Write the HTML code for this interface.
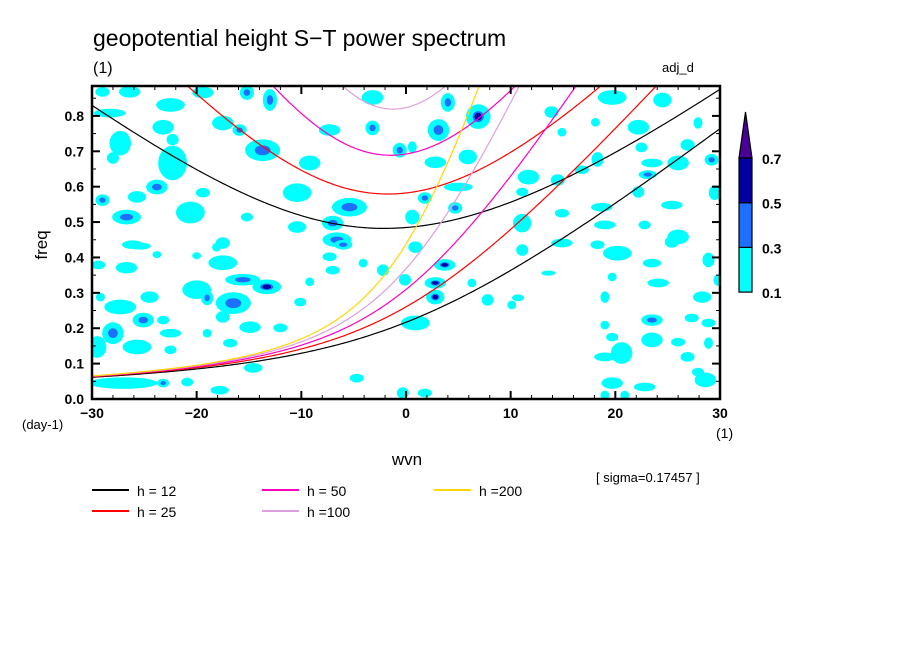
<!DOCTYPE html>
<html><head><meta charset="utf-8">
<style>
html,body{margin:0;padding:0;background:#fff;}
svg{display:block;font-family:"Liberation Sans","DejaVu Sans",sans-serif;}
</style></head>
<body>
<svg id="chart" width="904" height="654" viewBox="0 0 904 654" xmlns="http://www.w3.org/2000/svg">
<rect x="0" y="0" width="904" height="654" fill="#fff"/>
<text x="93" y="46" font-size="23" fill="#000">geopotential height S−T power spectrum</text>
<text x="93" y="73" font-size="16" fill="#000">(1)</text>
<text x="662" y="72" font-size="13" fill="#000">adj_d</text>
<g id="field"></g>
<g id="curves"></g>
<g id="axes"></g>
<text transform="translate(47,245) rotate(-90)" text-anchor="middle" font-size="17" fill="#000">freq</text>
<text x="22" y="429" font-size="13" fill="#000">(day-1)</text>
<text x="716" y="438" font-size="14" fill="#000">(1)</text>
<text x="407" y="465" text-anchor="middle" font-size="17" fill="#000">wvn</text>
<text x="596" y="482" font-size="13" fill="#000">[ sigma=0.17457 ]</text>
<g id="legend"></g>
<g id="colorbar"></g>
</svg>
<script>
// ---- data ----
const xTicks=[-30,-20,-10,0,10,20,30];
const yTicks=[0.0,0.1,0.2,0.3,0.4,0.5,0.6,0.7,0.8];
const depths=[12,25,50,100,200];
const depthColors=["#000000","#ff0000","#ff00c0","#dda0dd","#ffd700"];
const legendLabels=["h = 12","h = 25","h = 50","h =100","h =200"];
const cbLevels=[0.1,0.3,0.5,0.7];
const cbColors=["#00ffff","#1e6eff","#0000a0","#4b0096"];
// contour blobs (wavenumber, frequency, extent in wavenumber, extent in freq, level)
const blobK=[-29.0,-26.4,-22.5,-28.3,-23.2,-27.3,-28.0,-22.3,-22.3,-23.8,-25.7,-29.0,-26.7,-20.6,-19.4,-17.5,-19.4,-15.2,-13.0,-15.9,-13.7,-9.2,-7.3,-3.2,-3.2,-0.6,-10.4,-5.4,-7.0,-6.6,-10.4,-15.2,-17.5,-26.1,
4.0,6.9,3.1,0.6,5.9,2.8,5.0,1.8,4.7,0.6,11.7,11.1,14.5,11.1,13.9,14.9,18.1,19.7,22.2,24.5,22.5,18.3,16.8,23.5,26.0,26.9,29.2,23.1,22.2,18.7,14.9,19.0,22.8,26.0,27.9,29.5,25.4,14.9,18.3,
-25.4,-18.1,-6.0,-29.4,-26.7,-23.8,-20.0,-17.5,-15.6,-13.3,-20.0,-19.0,-16.5,-24.5,-27.3,-29.2,-25.1,-28.0,-29.5,-25.7,-23.2,-22.5,-17.5,-14.9,-12.0,-19.0,-16.8,-22.5,-14.6,-27.0,-23.2,-20.9,-17.8,-10.1,-9.2,-7.0,-4.1,-2.2,-4.7,-0.3,-7.3,
0.9,3.7,2.8,2.8,0.9,-0.1,11.1,14.9,20.2,23.5,25.4,28.9,29.8,24.1,19.0,19.7,28.3,13.6,7.8,10.7,10.1,6.3,23.5,27.3,28.9,19.0,19.7,23.5,26.0,20.6,19.0,26.9,28.9,27.9,28.6,19.7,22.8,19.0,20.9,1.8];
const blobF=[.868,.868,.831,.808,.768,.723,.681,.733,.667,.599,.571,.562,.514,.527,.583,.780,.866,.866,.845,.760,.703,.667,.760,.766,.852,.703,.583,.542,.497,.450,.486,.514,.441,.436,
.838,.798,.760,.712,.684,.669,.599,.568,.540,.514,.627,.585,.619,.497,.811,.754,.782,.852,.768,.845,.711,.677,.648,.667,.667,.718,.676,.634,.585,.542,.525,.492,.492,.458,.780,.583,.548,.441,.436,
.432,.429,.436,.379,.371,.408,.405,.385,.337,.317,.309,.286,.271,.288,.260,.288,.223,.186,.147,.147,.223,.186,.232,.203,.201,.186,.158,.139,.088,.045,.045,.048,.025,.274,.331,.364,.384,.364,.059,.017,.402,
.429,.379,.328,.288,.215,.337,.421,.441,.412,.384,.444,.393,.336,.328,.288,.345,.288,.356,.280,.286,.266,.328,.223,.229,.215,.209,.175,.167,.161,.130,.119,.119,.158,.076,.054,.045,.034,.011,.011,.017];
const blobDK=[1.2,1.9,2.6,2.9,1.9,1.9,1.0,1.0,2.6,1.9,1.6,1.2,2.6,2.6,1.2,1.9,1.9,1.2,1.2,1.2,3.2,1.9,1.9,1.2,1.9,1.2,2.6,3.2,1.9,2.6,1.6,1.0,1.2,1.9,
1.2,2.2,1.9,0.7,1.6,1.9,2.6,1.2,1.2,1.2,1.9,1.0,1.2,1.6,1.2,0.7,0.7,2.6,1.9,1.6,1.0,1.0,1.2,1.9,1.9,1.2,1.2,1.6,1.0,1.9,1.2,1.9,1.0,1.9,0.7,1.0,1.9,1.9,1.2,
1.9,0.7,1.6,1.2,1.9,0.7,0.7,2.6,3.2,2.6,2.6,1.0,3.2,1.6,2.9,0.7,1.9,1.9,1.6,2.6,1.0,1.9,1.2,1.9,1.2,0.7,1.2,1.0,1.6,6.4,1.0,1.0,1.6,1.0,0.7,1.2,0.7,1.0,1.2,1.0,1.2,
1.2,1.9,1.9,1.6,2.6,1.0,1.0,1.6,2.6,1.6,1.2,1.0,0.7,1.9,0.7,0.7,1.6,1.2,1.0,1.0,0.7,0.7,1.9,1.2,1.2,0.7,1.0,1.9,1.2,1.9,1.9,1.2,0.7,1.0,1.9,1.9,1.9,0.7,0.7,1.2];
const blobDF=[.023,.028,.034,.02,.037,.065,.028,.028,.093,.037,.028,.028,.037,.057,.023,.037,.028,.037,.057,.028,.057,.037,.028,.037,.037,.037,.048,.048,.037,.037,.028,.02,.028,.02,
.048,.065,.057,.028,.037,.028,.02,.028,.028,.037,.037,.02,.028,.048,.028,.02,.02,.037,.037,.037,.023,.037,.02,.02,.037,.028,.028,.02,.028,.02,.02,.02,.02,.037,.028,.037,.02,.02,.02,
.015,.02,.023,.02,.028,.015,.015,.037,.028,.037,.048,.037,.057,.028,.037,.02,.037,.057,.057,.037,.02,.02,.028,.028,.02,.02,.02,.02,.023,.028,.02,.02,.02,.02,.02,.02,.02,.028,.02,.028,.02,
.028,.028,.028,.037,.037,.028,.028,.02,.037,.02,.028,.037,.028,.02,.028,.02,.028,.01,.028,.015,.02,.02,.028,.02,.02,.02,.02,.037,.02,.057,.02,.023,.028,.02,.037,.028,.02,.02,.02,.02];
const blobLevel=[1,1,1,1,1,1,1,1,1,2,1,2,2,1,1,1,1,2,2,2,2,1,1,2,1,2,1,2,2,2,1,1,1,1,
2,3,2,1,1,1,1,2,2,1,1,1,1,1,1,1,1,1,1,1,1,1,1,1,1,1,2,2,1,1,1,1,1,1,1,1,1,1,1,
1,1,2,1,1,1,1,1,2,3,1,2,2,1,1,1,2,2,1,1,1,1,1,1,1,1,1,1,1,1,2,1,1,1,1,1,1,1,1,1,1,
1,3,3,3,1,1,1,1,1,1,1,1,1,1,1,1,1,1,1,1,1,1,2,1,1,1,1,1,1,1,1,1,1,1,1,1,1,1,1,1];

// ---- axes ----
const X0=92,X1=720,Y0=399,Y1=86;
const kMin=-30,kMax=30,fMin=0,fMax=0.8845;
const xs=k=>X0+(k-kMin)/(kMax-kMin)*(X1-X0);
const ys=f=>Y0-(f-fMin)/(fMax-fMin)*(Y0-Y1);
const NS="http://www.w3.org/2000/svg";
function el(tag,attrs,parent){const e=document.createElementNS(NS,tag);for(const a in attrs)e.setAttribute(a,attrs[a]);parent.appendChild(e);return e;}

// field
const field=document.getElementById('field');
const clip=el('clipPath',{id:'pc'},document.getElementById('chart'));
el('rect',{x:X0,y:Y1,width:X1-X0,height:Y0-Y1},clip);
field.setAttribute('clip-path','url(#pc)');
const sx=(X1-X0)/(kMax-kMin), sy=(Y0-Y1)/(fMax-fMin);
for(let i=0;i<blobK.length;i++){
  const cx=xs(blobK[i]),cy=ys(blobF[i]),rx=blobDK[i]*sx/2+0.8,ry=blobDF[i]*sy/2+0.8;
  const b=el('ellipse',{cx:cx,cy:cy,rx:rx,ry:ry,fill:cbColors[0]},field);
  
  
  if(blobLevel[i]>=2){el('ellipse',{cx:cx,cy:cy,rx:Math.max(2,rx*0.45),ry:Math.max(2,ry*0.45),fill:cbColors[1]},field);}
  if(blobLevel[i]>=3){el('ellipse',{cx:cx,cy:cy,rx:Math.max(2,rx*0.3),ry:Math.max(1.5,ry*0.3),fill:cbColors[2]},field);}
}

// dispersion curves (equatorial waves, n=0 EIG and n=2 IG)
const curves=document.getElementById('curves');
curves.setAttribute('clip-path','url(#pc)');
const g=9.81,aE=6.371e6,beta=2*7.292e-5/aE,toCpd=86400/(2*Math.PI);
function omega(k,h,n){
  const c=Math.sqrt(g*h),kk=k/aE;
  if(n===0){return (c*kk+Math.sqrt(c*c*kk*kk+4*beta*c))/2;}
  let w=2e-3;
  const A=c*c*kk*kk+(2*n+1)*beta*c,B=beta*c*c*kk;
  for(let it=0;it<80;it++){const fv=w*w*w-A*w-B,d=3*w*w-A;w-=fv/d;}
  return w;
}
depths.forEach((h,j)=>{
  [0,2].forEach(n=>{
    let d='';
    for(let k=kMin;k<=kMax+1e-9;k+=0.25){
      const f=omega(k,h,n)*toCpd;
      d+=(d?'L':'M')+xs(k).toFixed(2)+','+ys(Math.min(f,2)).toFixed(2);
    }
    const p=el('path',{d:d,fill:'none',stroke:depthColors[j],'stroke-width':1.2},curves);
    
    
  });
});

// axes frame and ticks
const ax=document.getElementById('axes');
el('rect',{x:X0,y:Y1,width:X1-X0,height:Y0-Y1,fill:'none',stroke:'#000','stroke-width':2.5},ax);
for(let k=kMin;k<=kMax;k+=2){
  const maj=(k%10===0),L=maj?8:4,x=xs(k);
  el('line',{x1:x,y1:Y0,x2:x,y2:Y0-L,stroke:'#000','stroke-width':maj?2:1},ax);
  el('line',{x1:x,y1:Y1,x2:x,y2:Y1+L,stroke:'#000','stroke-width':maj?2:1},ax);
}
for(let f=0;f<=0.86;f+=0.05){
  const maj=Math.abs(Math.round(f*20)%2)===0,L=maj?8:4,y=ys(f);
  el('line',{x1:X0,y1:y,x2:X0+L,y2:y,stroke:'#000','stroke-width':maj?2:1},ax);
  el('line',{x1:X1,y1:y,x2:X1-L,y2:y,stroke:'#000','stroke-width':maj?2:1},ax);
}
xTicks.forEach(v=>{
  const t=el('text',{x:xs(v),y:418,'text-anchor':'middle','font-size':14,'font-weight':'bold',fill:'#000'},ax);
  t.textContent=(v<0?'−':'')+Math.abs(v);
  
  
});
yTicks.forEach(v=>{
  const t=el('text',{x:84,y:ys(v)+5,'text-anchor':'end','font-size':14,'font-weight':'bold',fill:'#000'},ax);
  t.textContent=v.toFixed(1);
  
  
});

// legend
const lg=document.getElementById('legend');
const legX=[92,92,262,262,434],legY=[496,517,496,517,496];
depths.forEach((h,j)=>{
  const gi=el('g',{},lg);
  
  
  el('line',{x1:legX[j],y1:legY[j]-6,x2:legX[j]+37,y2:legY[j]-6,stroke:depthColors[j],'stroke-width':2},gi);
  const t=el('text',{x:legX[j]+45,y:legY[j],'font-size':14,fill:'#000'},gi);
  t.textContent=legendLabels[j];
});

// colorbar
const cb=document.getElementById('colorbar');
const cbX=739,cbW=13,cbTop=158,cbStep=44.7;
for(let i=0;i<3;i++){
  const y=cbTop+(2-i)*cbStep;
  const r=el('rect',{x:cbX,y:y,width:cbW,height:cbStep,fill:cbColors[i],stroke:'#000','stroke-width':1.2},cb);
  
  
}
el('polygon',{points:`${cbX},${cbTop} ${cbX+cbW},${cbTop} ${cbX+cbW/2},${112}`,fill:cbColors[3],stroke:'#000','stroke-width':1.2},cb);
cbLevels.forEach((v,i)=>{
  const t=el('text',{x:762,y:cbTop+(3-i)*cbStep+6,'font-size':14,'font-weight':'bold',fill:'#000'},cb);
  t.textContent=v.toFixed(1);
  
  
});
</script>
</body></html>
